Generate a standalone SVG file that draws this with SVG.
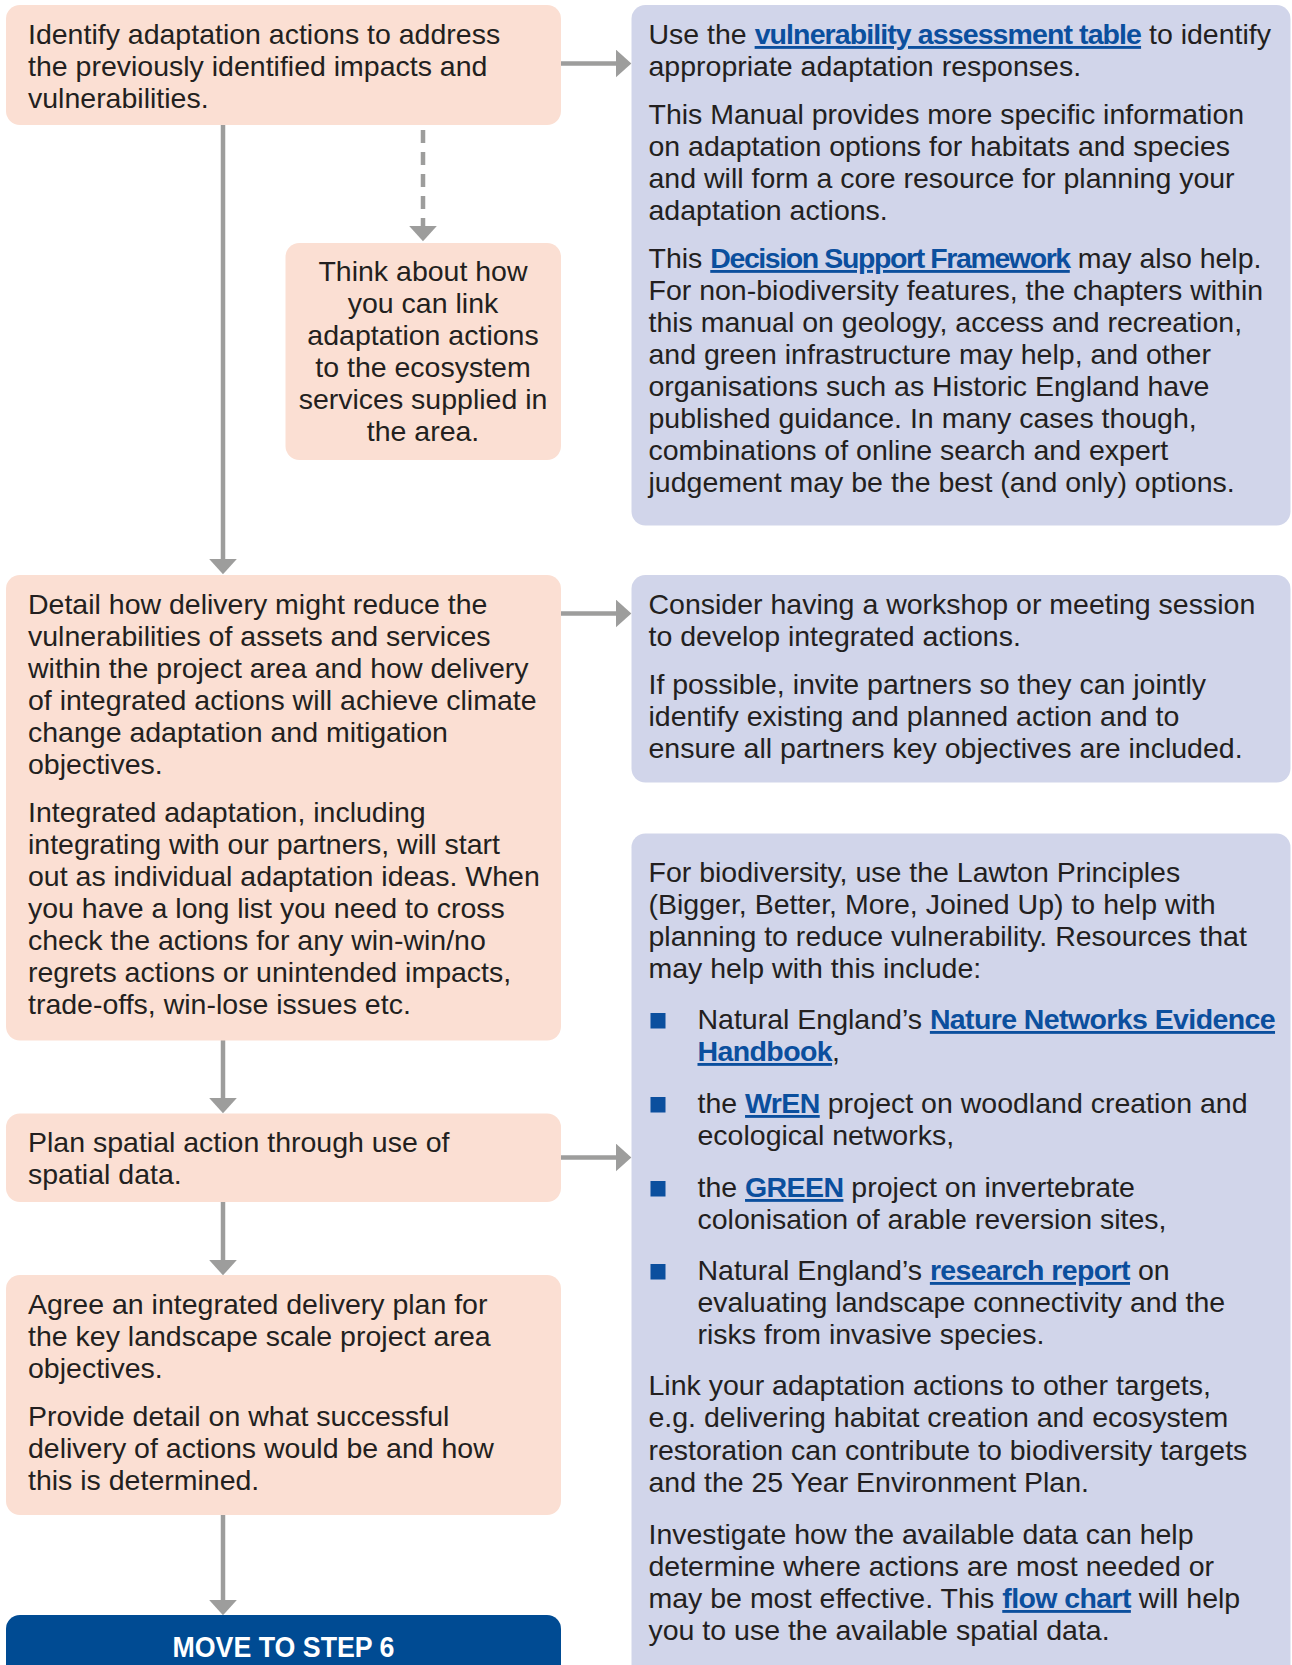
<svg xmlns="http://www.w3.org/2000/svg" width="1292" height="1665" viewBox="0 0 1292 1665">
<style>
.peach{fill:#fbdfd3}
.lav{fill:#d1d5ea}
.btn{fill:#004b93}
text{font-family:"Liberation Sans",Arial,sans-serif;font-size:28.5px;fill:#231f20}
.c{text-anchor:middle}
.lk{font-weight:bold;fill:#0b4f9e;text-decoration:underline;letter-spacing:-0.9px}
.lk2{letter-spacing:-0.6px}
.lk3{letter-spacing:-1.4px}
.bt{font-weight:bold;fill:#ffffff;text-anchor:middle;font-size:29px}
.con{stroke:#9d9d9c;stroke-width:4.5;fill:none}
.dash{stroke-dasharray:13 9}
.bul{fill:#0b4f9e}
</style>
<defs>
<marker id="arr" markerUnits="userSpaceOnUse" markerWidth="16" markerHeight="28" viewBox="0 0 15 27" refX="5" refY="13.5" orient="auto">
<path d="M0,0 L15,13.5 L0,27 z" fill="#9d9d9c"/>
</marker>
</defs>

<g id="connectors">
<line class="con" x1="223" y1="125" x2="223" y2="564" marker-end="url(#arr)"/>
<line class="con dash" x1="423" y1="130" x2="423" y2="231" marker-end="url(#arr)"/>
<line class="con" x1="560" y1="63.5" x2="621" y2="63.5" marker-end="url(#arr)"/>
<line class="con" x1="560" y1="613.5" x2="621" y2="613.5" marker-end="url(#arr)"/>
<line class="con" x1="223" y1="1040" x2="223" y2="1103" marker-end="url(#arr)"/>
<line class="con" x1="560" y1="1157.5" x2="621" y2="1157.5" marker-end="url(#arr)"/>
<line class="con" x1="223" y1="1202" x2="223" y2="1265" marker-end="url(#arr)"/>
<line class="con" x1="223" y1="1515" x2="223" y2="1605" marker-end="url(#arr)"/>
</g>

<g id="identify">
<rect class="peach" x="6" y="5" width="555" height="120" rx="14"/>
<text x="28" y="44">Identify adaptation actions to address</text>
<text x="28" y="76">the previously identified impacts and</text>
<text x="28" y="108">vulnerabilities.</text>
</g>

<g id="think">
<rect class="peach" x="285.5" y="243" width="275.5" height="217" rx="14"/>
<text class="c" x="423" y="281">Think about how</text>
<text class="c" x="423" y="313">you can link</text>
<text class="c" x="423" y="345">adaptation actions</text>
<text class="c" x="423" y="377">to the ecosystem</text>
<text class="c" x="423" y="409">services supplied in</text>
<text class="c" x="423" y="441">the area.</text>
</g>

<g id="use-table">
<rect class="lav" x="631.5" y="5" width="659" height="520.5" rx="14"/>
<text x="648.5" y="44">Use the <tspan class="lk">vulnerability assessment table</tspan> to identify</text>
<text x="648.5" y="76">appropriate adaptation responses.</text>
<text x="648.5" y="124">This Manual provides more specific information</text>
<text x="648.5" y="156">on adaptation options for habitats and species</text>
<text x="648.5" y="188">and will form a core resource for planning your</text>
<text x="648.5" y="220">adaptation actions.</text>
<text x="648.5" y="268">This <tspan class="lk lk3">Decision Support Framework</tspan> may also help.</text>
<text x="648.5" y="300">For non-biodiversity features, the chapters within</text>
<text x="648.5" y="332">this manual on geology, access and recreation,</text>
<text x="648.5" y="364">and green infrastructure may help, and other</text>
<text x="648.5" y="396">organisations such as Historic England have</text>
<text x="648.5" y="428">published guidance. In many cases though,</text>
<text x="648.5" y="460">combinations of online search and expert</text>
<text x="648.5" y="492">judgement may be the best (and only) options.</text>
</g>

<g id="detail">
<rect class="peach" x="6" y="575" width="555" height="465.5" rx="14"/>
<text x="28" y="614">Detail how delivery might reduce the</text>
<text x="28" y="646">vulnerabilities of assets and services</text>
<text x="28" y="678">within the project area and how delivery</text>
<text x="28" y="710">of integrated actions will achieve climate</text>
<text x="28" y="742">change adaptation and mitigation</text>
<text x="28" y="774">objectives.</text>
<text x="28" y="822">Integrated adaptation, including</text>
<text x="28" y="854">integrating with our partners, will start</text>
<text x="28" y="886">out as individual adaptation ideas. When</text>
<text x="28" y="918">you have a long list you need to cross</text>
<text x="28" y="950">check the actions for any win-win/no</text>
<text x="28" y="982">regrets actions or unintended impacts,</text>
<text x="28" y="1014">trade-offs, win-lose issues etc.</text>
</g>

<g id="workshop">
<rect class="lav" x="631.5" y="575" width="659" height="207.5" rx="14"/>
<text x="648.5" y="614">Consider having a workshop or meeting session</text>
<text x="648.5" y="646">to develop integrated actions.</text>
<text x="648.5" y="694">If possible, invite partners so they can jointly</text>
<text x="648.5" y="726">identify existing and planned action and to</text>
<text x="648.5" y="758">ensure all partners key objectives are included.</text>
</g>

<g id="plan">
<rect class="peach" x="6" y="1113.5" width="555" height="88.5" rx="14"/>
<text x="28" y="1152">Plan spatial action through use of</text>
<text x="28" y="1184">spatial data.</text>
</g>

<g id="agree">
<rect class="peach" x="6" y="1275" width="555" height="240" rx="14"/>
<text x="28" y="1314">Agree an integrated delivery plan for</text>
<text x="28" y="1346">the key landscape scale project area</text>
<text x="28" y="1378">objectives.</text>
<text x="28" y="1426">Provide detail on what successful</text>
<text x="28" y="1458">delivery of actions would be and how</text>
<text x="28" y="1490">this is determined.</text>
</g>

<g id="move-to-step-6">
<rect class="btn" x="6" y="1615" width="555" height="80" rx="14"/>
<text class="bt" x="283.5" y="1656.5" textLength="222" lengthAdjust="spacingAndGlyphs">MOVE TO STEP 6</text>
</g>

<g id="biodiversity">
<rect class="lav" x="631.5" y="833.5" width="659" height="880" rx="14"/>
<text x="648.5" y="882">For biodiversity, use the Lawton Principles</text>
<text x="648.5" y="914">(Bigger, Better, More, Joined Up) to help with</text>
<text x="648.5" y="946">planning to reduce vulnerability. Resources that</text>
<text x="648.5" y="978">may help with this include:</text>
<rect class="bul" x="650.5" y="1013" width="15" height="15.5"/>
<text x="697.5" y="1029">Natural England’s <tspan class="lk lk2">Nature Networks Evidence</tspan></text>
<text x="697.5" y="1061"><tspan class="lk lk2">Handbook</tspan>,</text>
<rect class="bul" x="650.5" y="1097" width="15" height="15.5"/>
<text x="697.5" y="1113">the <tspan class="lk lk2">WrEN</tspan> project on woodland creation and</text>
<text x="697.5" y="1145">ecological networks,</text>
<rect class="bul" x="650.5" y="1181" width="15" height="15.5"/>
<text x="697.5" y="1197">the <tspan class="lk lk2">GREEN</tspan> project on invertebrate</text>
<text x="697.5" y="1229">colonisation of arable reversion sites,</text>
<rect class="bul" x="650.5" y="1264" width="15" height="15.5"/>
<text x="697.5" y="1280">Natural England’s <tspan class="lk lk2">research report</tspan> on</text>
<text x="697.5" y="1312">evaluating landscape connectivity and the</text>
<text x="697.5" y="1344">risks from invasive species.</text>
<text x="648.5" y="1395">Link your adaptation actions to other targets,</text>
<text x="648.5" y="1427">e.g. delivering habitat creation and ecosystem</text>
<text x="648.5" y="1460">restoration can contribute to biodiversity targets</text>
<text x="648.5" y="1492">and the 25 Year Environment Plan.</text>
<text x="648.5" y="1544">Investigate how the available data can help</text>
<text x="648.5" y="1576">determine where actions are most needed or</text>
<text x="648.5" y="1608">may be most effective. This <tspan class="lk lk2">flow chart</tspan> will help</text>
<text x="648.5" y="1640">you to use the available spatial data.</text>
</g>
</svg>
